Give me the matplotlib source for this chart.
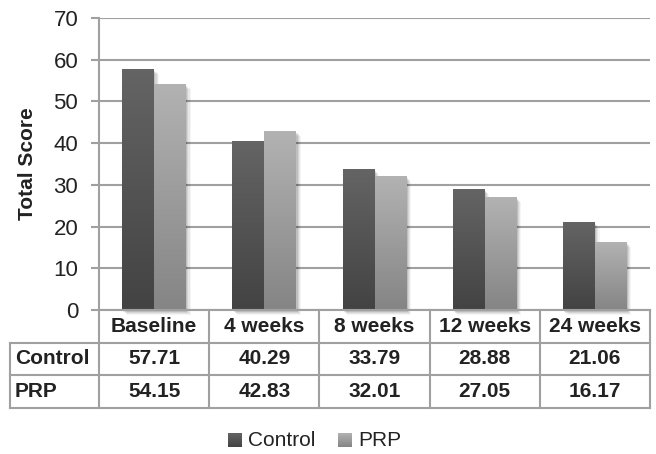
import numpy as np
import matplotlib
matplotlib.use("Agg")
import matplotlib.pyplot as plt
from matplotlib.colors import LinearSegmentedColormap
from matplotlib.patches import Rectangle
from matplotlib.lines import Line2D
import matplotlib.transforms as mtransforms

plt.rcParams['font.family'] = ['Liberation Sans', 'DejaVu Sans']

categories = ['Baseline', '4 weeks', '8 weeks', '12 weeks', '24 weeks']
control = [57.71, 40.29, 33.79, 28.88, 21.06]
prp = [54.15, 42.83, 32.01, 27.05, 16.17]
series_names = ['Control', 'PRP']
yticks = [0, 10, 20, 30, 40, 50, 60, 70]

W, H = 656, 454
fig = plt.figure(figsize=(W / 100, H / 100), dpi=100)
# plot area in pixels: left 99, right 650, top 18, bottom 310
ax = fig.add_axes([99 / W, (H - 310) / H, 551 / W, 292 / H])

cmap_ctrl = LinearSegmentedColormap.from_list('ctrl', ['#434343', '#646464'])
cmap_prp = LinearSegmentedColormap.from_list('prp', ['#858585', '#b2b2b2'])
grad = np.linspace(0, 1, 100).reshape(-1, 1)

bw = 0.29
x = np.arange(len(categories))


def gradient_bar(xc, h, cmap):
    x0, x1 = xc - bw / 2, xc + bw / 2
    # soft shadow down/right
    for i, a in enumerate([0.10, 0.08, 0.06, 0.04]):
        dx = 0.012 + i * 0.01
        ax.add_patch(Rectangle((x0 + dx, -0.4 - i * 0.25), bw, h, color='black',
                               alpha=a, lw=0, zorder=2, clip_on=False))
    ax.imshow(grad, extent=[x0, x1, 0, h], origin='lower', cmap=cmap,
              aspect='auto', interpolation='bilinear', zorder=3)


for i in range(len(categories)):
    gradient_bar(x[i] - bw / 2, control[i], cmap_ctrl)
    gradient_bar(x[i] + bw / 2, prp[i], cmap_prp)

ax.set_xlim(-0.5, len(categories) - 0.5)
ax.set_ylim(0, 70)
ax.set_yticks(yticks)
ax.set_xticks([])
ax.tick_params(axis='y', length=6, width=1.5, color='#a0a0a0', labelsize=16,
               labelcolor='#222222', pad=9)
ax.grid(axis='y', color='#a0a0a0', lw=1.5, zorder=0)
ax.set_axisbelow(True)
for s in ['top', 'right', 'bottom']:
    ax.spines[s].set_visible(False)
ax.spines['left'].set_color('#a0a0a0')
ax.spines['left'].set_linewidth(1.5)
ax.set_ylabel('Total Score', fontsize=15, fontweight='bold', color='#222222',
              labelpad=12)

# data table under the plot
trans = mtransforms.blended_transform_factory(ax.transData, ax.transAxes)
row_px = [310, 342.5, 375, 408]
rows = [(310 - r) / 292 for r in row_px]
x_left = -0.5 + (10 - 99) / 110.2
x_right = len(categories) - 0.5
lc = '#a0a0a0'


def tline(xs, ys):
    ax.add_line(Line2D(xs, ys, transform=trans, color=lc, lw=1.5,
                       clip_on=False, zorder=5))


tline([-0.5, x_right], [rows[0], rows[0]])
for r in rows[1:]:
    tline([x_left, x_right], [r, r])
tline([-0.5, -0.5], [rows[0], rows[3]])
tline([x_left, x_left], [rows[1], rows[3]])
for k in range(1, len(categories) + 1):
    tline([k - 0.5, k - 0.5], [rows[0], rows[3]])

txt_kw = dict(transform=trans, fontsize=15, fontweight='bold', color='#222222',
              va='center', clip_on=False)
for i, c in enumerate(categories):
    ax.text(x[i], (rows[0] + rows[1]) / 2, c, ha='center', **txt_kw)
    ax.text(x[i], (rows[1] + rows[2]) / 2, f'{control[i]:.2f}', ha='center', **txt_kw)
    ax.text(x[i], (rows[2] + rows[3]) / 2, f'{prp[i]:.2f}', ha='center', **txt_kw)
lab_x = x_left + 5 / 110.2
ax.text(lab_x, (rows[1] + rows[2]) / 2, series_names[0], ha='left', **txt_kw)
ax.text(lab_x, (rows[2] + rows[3]) / 2, series_names[1], ha='left', **txt_kw)

# legend with gradient swatches
sq = 14
leg_y = 440
for lx, cmap, name in [(228, cmap_ctrl, series_names[0]), (338, cmap_prp, series_names[1])]:
    lax = fig.add_axes([lx / W, (H - leg_y - sq / 2) / H, sq / W, sq / H])
    lax.imshow(grad, origin='lower', cmap=cmap, aspect='auto', interpolation='bilinear')
    lax.axis('off')
    fig.text((lx + sq + 6) / W, (H - leg_y) / H, name, fontsize=15,
             color='#222222', va='center', ha='left')

fig.savefig('out.png', dpi=100)
